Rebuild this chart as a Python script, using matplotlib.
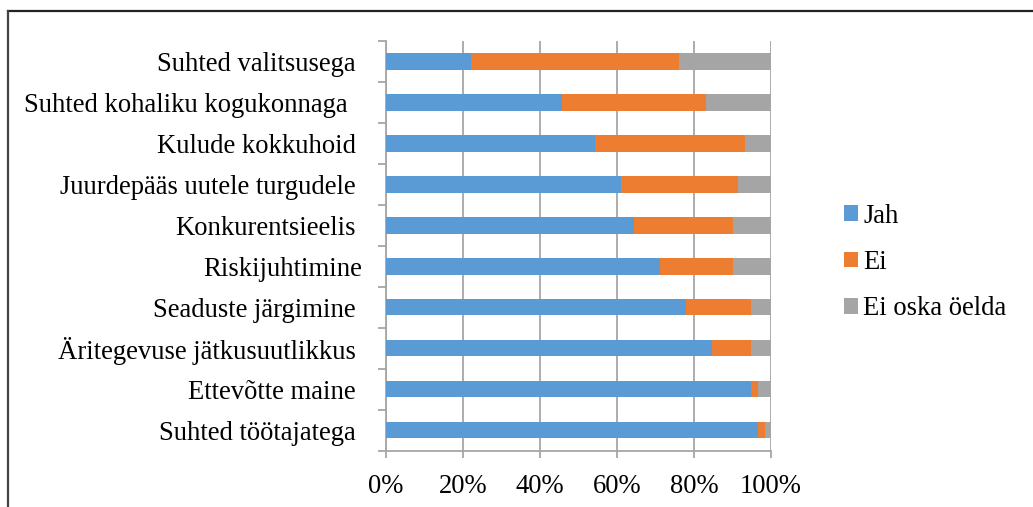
import matplotlib
matplotlib.use("Agg")
import matplotlib.pyplot as plt
from matplotlib.lines import Line2D
from matplotlib.transforms import ScaledTranslation
import numpy as np

categories = [
    "Suhted valitsusega",
    "Suhted kohaliku kogukonnaga",
    "Kulude kokkuhoid",
    "Juurdepääs uutele turgudele",
    "Konkurentsieelis",
    "Riskijuhtimine",
    "Seaduste järgimine",
    "Äritegevuse jätkusuutlikkus",
    "Ettevõtte maine",
    "Suhted töötajatega",
]
jah = [22.0, 45.8, 54.3, 61.0, 64.4, 71.2, 78.0, 84.8, 94.8, 96.6]
ei = [54.2, 37.2, 39.0, 30.5, 25.6, 18.8, 16.8, 10.0, 1.8, 1.8]
ei_oska = [23.8, 17.0, 6.7, 8.5, 10.0, 10.0, 5.2, 5.2, 3.4, 1.6]
series_names = ["Jah", "Ei", "Ei oska öelda"]
xticks = [0, 20, 40, 60, 80, 100]
xtick_labels = ["0%", "20%", "40%", "60%", "80%", "100%"]

colors = ["#5B9BD5", "#ED7D31", "#A5A5A5"]
grid_c = "#A6A6A6"
FS = 19.2

plt.rcParams['font.family'] = ['Liberation Serif', 'DejaVu Serif']

W, H = 1033, 507
fig = plt.figure(figsize=(W / 100, H / 100), dpi=100)
ax = fig.add_axes([386 / W, 1 - 450.7 / H, (771 - 386) / W, (450.7 - 41) / H])

y = np.arange(len(categories))
left = np.zeros(len(categories))
for vals, name, c in zip([jah, ei, ei_oska], series_names, colors):
    ax.barh(y, vals, left=left, height=0.4, color=c, label=name, linewidth=0, zorder=3)
    left = left + np.array(vals)

ax.set_xlim(0, 100)
ax.set_ylim(len(categories) - 0.5, -0.5)

ax.set_xticks(xticks)
ax.set_xticklabels(xtick_labels, fontsize=FS, color="#000000")
ax.set_yticks(y)
ax.set_yticklabels(categories, fontsize=FS, color="#000000")
ax.set_yticks(np.arange(-0.5, len(categories) + 0.5, 1), minor=True)

ax.tick_params(axis="y", which="major", length=0, pad=21.6)
ax.tick_params(axis="y", which="minor", length=5.5, width=1.3, color=grid_c, direction="out")
ax.tick_params(axis="x", which="major", length=5.2, width=1.3, color=grid_c, direction="out", pad=11.5)

ax.grid(axis="x", color=grid_c, linewidth=1.3, zorder=1)
ax.set_axisbelow(True)
for s in ["top", "right"]:
    ax.spines[s].set_visible(False)
for s in ["left", "bottom"]:
    ax.spines[s].set_color(grid_c)
    ax.spines[s].set_linewidth(1.3)

# small label offsets (trailing spaces in the original)
labels = ax.get_yticklabels()
offsets = {1: -8, 5: 6}
for i, dx in offsets.items():
    labels[i].set_transform(labels[i].get_transform() + ScaledTranslation(dx / 100, 0, fig.dpi_scale_trans))

leg = ax.legend(loc="center left", bbox_to_anchor=(844 / W, 1 - 262.5 / H),
                bbox_transform=fig.transFigure, frameon=False, fontsize=FS,
                handlelength=0.52, handleheight=0.52, handletextpad=0.2,
                labelspacing=0.8, borderpad=0, borderaxespad=0)

# outer frame (top and left edges only)
fig.add_artist(Line2D([8 / W, 1], [1 - 11.3 / H, 1 - 11.3 / H], transform=fig.transFigure,
                      color="#222222", linewidth=1.6))
fig.add_artist(Line2D([8 / W, 8 / W], [0, 1 - 11.3 / H], transform=fig.transFigure,
                      color="#444444", linewidth=1.6))

fig.savefig("out.png", dpi=100)
